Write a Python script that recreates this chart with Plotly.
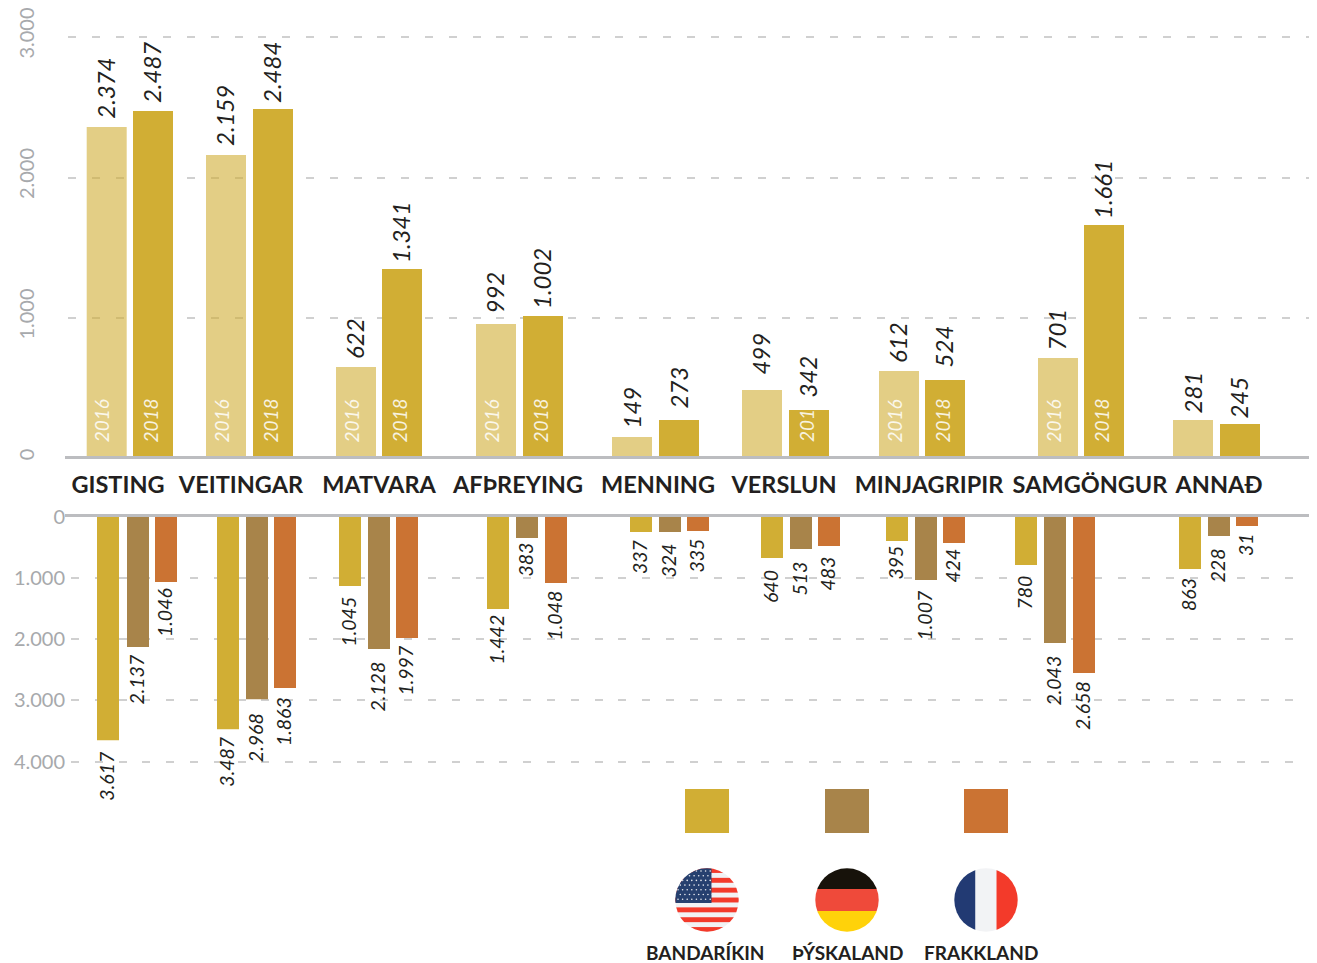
import base64
import plotly.graph_objects as go

# ---------- data ----------
categories = ["GISTING", "VEITINGAR", "MATVARA", "AFÞREYING", "MENNING", "VERSLUN", "MINJAGRIPIR", "SAMGÖNGUR", "ANNAÐ"]

spend_2016 = [2359, 2160, 651, 957, 153, 487, 623, 715, 274]
spend_2018 = [2473, 2488, 1349, 1014, 274, 345, 559, 1662, 245]
labels_2016 = ["2.374", "2.159", "622", "992", "149", "499", "612", "701", "281"]
labels_2018 = ["2.487", "2.484", "1.341", "1.002", "273", "342", "524", "1.661", "245"]
year_2016 = ["2016", "2016", "2016", "2016", "", "", "2016", "2016", ""]
year_2018 = ["2018", "2018", "2018", "2018", "", "201", "2018", "2018", ""]

usa = [3649, 3469, 1132, 1508, 250, 675, 397, 789, 855]
germany = [2129, 2979, 2162, 348, 250, 528, 1034, 2064, 315]
france = [1067, 2799, 1982, 1083, 234, 479, 430, 2554, 152]
labels_usa = ["3.617", "3.487", "1.045", "1.442", "337", "640", "395", "780", "863"]
labels_germany = ["2.137", "2.968", "2.128", "383", "324", "513", "1.007", "2.043", "228"]
labels_france = ["1.046", "1.863", "1.997", "1.048", "335", "483", "424", "2.658", "31"]

top_ticks = [0, 1000, 2000, 3000]
top_tick_text = ["0", "1.000", "2.000", "3.000"]
bottom_ticks = [0, 1000, 2000, 3000, 4000]
bottom_tick_text = ["0", "1.000", "2.000", "3.000", "4.000"]

countries = ["BANDARÍKIN", "ÞÝSKALAND", "FRAKKLAND"]

# ---------- layout constants ----------
OFFSET = 8  # default page margin around the figure
W, H = 1317 - OFFSET, 963 - OFFSET
x_2016 = [106.7, 226, 356, 496, 632, 762, 899, 1058, 1193]
x_2018 = [153, 273, 402, 543, 679, 809, 945, 1104, 1240]
x_usa = [108, 228, 350, 498, 641, 772, 897, 1026, 1190]
x_ger = [138, 257, 379, 527, 670, 801, 926, 1055, 1219]
x_fra = [166, 285, 407, 556, 698, 829, 954, 1084, 1247]
x_cat = [118, 241, 379, 518, 658, 784, 929, 1090, 1219]

gap_2016 = [7, 8, 7, 9, 7, 14, 7, 6, 5]
gap_2018 = [7, 5, 5, 6, 10, 11, 11, 5, 4]
gap_usa = [10, 7, 10, 5, 6, 11, 4, 10, 8]
gap_ger = [7, 13, 12, 4, 11, 12, 10, 12, 12]
gap_fra = [5, 8, 7, 7, 7, 10, 5, 7, 6]

GOLD, BROWN, ORANGE = "#D1AE34", "#A8844A", "#CB7333"
INK, GRID, RULE, TICK = "#231F20", "#D0D0D0", "#BCBDC0", "#A7A9AC"
NUM_FONT = "Lato"
CAT_FONT = "Lato"
DASH = "8px,15.8px"


def px(x):
    return (x - OFFSET) / W


def py(y):
    return 1 - (y - OFFSET) / H


fig = go.Figure()


def bar(x, y, color, width, yaxis, xaxis, opacity=1.0):
    fig.add_trace(go.Bar(x=x, y=y, width=width, marker=dict(color=color, line=dict(width=0)),
                         opacity=opacity, xaxis=xaxis, yaxis=yaxis, showlegend=False, hoverinfo="skip"))


bar(x_2016, spend_2016, GOLD, 40, "y", "x", 0.6)
bar(x_2018, spend_2018, GOLD, 40, "y", "x")
bar(x_usa, usa, GOLD, 22, "y2", "x2")
bar(x_ger, germany, BROWN, 22, "y2", "x2")
bar(x_fra, france, ORANGE, 22, "y2", "x2")

ann = []


def value_labels(xs, ys, texts, gaps, xref, yref, size, anchor):
    for x, y, t, g in zip(xs, ys, texts, gaps):
        ann.append(dict(x=x, y=y, xref=xref, yref=yref, text=t, textangle=-90, showarrow=False,
                        xanchor="center", yanchor=anchor, yshift=(g if anchor == "bottom" else -g), xshift=-1.5,
                        borderpad=0, font=dict(family=NUM_FONT, size=size, color=INK, style="italic")))


value_labels(x_2016, spend_2016, labels_2016, gap_2016, "x", "y", 24, "bottom")
value_labels(x_2018, spend_2018, labels_2018, gap_2018, "x", "y", 24, "bottom")
value_labels(x_usa, usa, labels_usa, gap_usa, "x2", "y2", 19.5, "top")
value_labels(x_ger, germany, labels_germany, gap_ger, "x2", "y2", 19.5, "top")
value_labels(x_fra, france, labels_france, gap_fra, "x2", "y2", 19.5, "top")


def year_labels(xs, texts, shift):
    for x, t in zip(xs, texts):
        if t:
            ann.append(dict(x=x, y=0, xref="x", yref="y", text=t, textangle=-90, showarrow=False,
                            xanchor="center", yanchor="bottom", yshift=15, xshift=shift, borderpad=0,
                            font=dict(family=NUM_FONT, size=19, color="rgba(255,255,255,0.85)", style="italic")))


year_labels(x_2016, year_2016, -5.5)
year_labels(x_2018, year_2018, -3)

# ---------- legend ----------
legend_colors = [GOLD, BROWN, ORANGE]
legend_x = [707, 847, 986]
label_x = [705.5, 847, 981]
shapes = []

for cx, c in zip(legend_x, legend_colors):
    shapes.append(dict(type="rect", xref="paper", yref="paper", x0=px(cx - 22), x1=px(cx + 22),
                       y0=py(833), y1=py(789), fillcolor=c, line=dict(width=0)))
for cx, name in zip(label_x, countries):
    ann.append(dict(x=px(cx), y=py(952), xref="paper", yref="paper", text=name, showarrow=False,
                    xanchor="center", yanchor="middle",
                    font=dict(family=CAT_FONT, size=19, color=INK, weight=700)))

# axis rules
for rule_y in [457.5, 515.5]:
    shapes.append(dict(type="line", xref="paper", yref="paper", x0=px(65), x1=px(1311), y0=py(rule_y), y1=py(rule_y),
                       line=dict(color=RULE, width=3), layer="above"))


# ---------- flags ----------
def svg_uri(body):
    svg = ('<svg xmlns="http://www.w3.org/2000/svg" width="64" height="64" viewBox="0 0 64 64">'
           '<defs><clipPath id="c"><circle cx="32" cy="32" r="31.7"/></clipPath></defs>'
           f'<g clip-path="url(#c)">{body}</g></svg>')
    return "data:image/svg+xml;base64," + base64.b64encode(svg.encode()).decode()


us = '<rect width="64" height="64" fill="#F1F2F4"/>'
for i in range(0, 13, 2):
    us += f'<rect x="0" y="{i * 64 / 13:.2f}" width="64" height="{64 / 13:.2f}" fill="#F33A2B"/>'
us += '<rect x="0" y="0" width="36.5" height="35" fill="#26406F"/>'
for r in range(7):
    for k in range(8):
        us += f'<circle cx="{3 + k * 4.6 + (r % 2) * 2.3:.1f}" cy="{3 + r * 4.7:.1f}" r="0.8" fill="#E8EAF0"/>'
de = ('<rect width="64" height="21" fill="#17120A"/><rect y="21" width="64" height="22" fill="#EF4A3A"/>'
      '<rect y="43" width="64" height="21" fill="#FFD20A"/>')
fr = ('<rect width="21.5" height="64" fill="#223A73"/><rect x="21.5" width="21" height="64" fill="#F2F3F5"/>'
      '<rect x="42.5" width="21.5" height="64" fill="#F33A2A"/>')
images = [dict(source=svg_uri(b), xref="paper", yref="paper", x=px(cx), y=py(900), sizex=64 / W, sizey=64 / H,
               xanchor="center", yanchor="middle", sizing="stretch", layer="above")
          for b, cx in zip([us, de, fr], legend_x)]

fig.update_layout(
    template="none",
    width=W, height=H, autosize=False, margin=dict(l=0, r=0, t=0, b=0, pad=0),
    paper_bgcolor="white", plot_bgcolor="white", barmode="overlay",
    annotations=ann, shapes=shapes, images=images,
    xaxis=dict(domain=[px(68), px(1311)], range=[68, 1311], anchor="y", automargin=False, showgrid=False,
               zeroline=False, showline=False,
               tickmode="array", tickvals=x_cat, ticktext=categories, ticks="", ticklabelstandoff=10,
               tickfont=dict(family=CAT_FONT, size=23.5, color=INK, weight=700), tickangle=0),
    yaxis=dict(domain=[py(458.5), py(35.6)], range=[0, 3010], anchor="x", automargin=False, showline=False,
               zeroline=False,
               tickmode="array", tickvals=top_ticks, ticktext=top_tick_text, tickangle=-90, ticks="",
               ticklabelstandoff=29, ticklabelshift=-1, ticklabeloverflow="allow",
               tickfont=dict(family="Lato", size=20, color=TICK),
               showgrid=True, gridcolor=GRID, gridwidth=1.5, griddash=DASH),
    xaxis2=dict(domain=[px(71), px(1316)], range=[71, 1316], anchor="y2", automargin=False, showgrid=False,
                zeroline=False, showline=False, showticklabels=False, ticks=""),
    yaxis2=dict(domain=[py(762.9), py(516.7)], range=[4020, 0], anchor="x2", automargin=False, showline=False,
                zeroline=False,
                tickmode="array", tickvals=bottom_ticks, ticktext=bottom_tick_text, ticks="",
                ticklabelstandoff=5,
                tickfont=dict(family="Lato", size=20, color=TICK),
                showgrid=True, gridcolor=GRID, gridwidth=1.5, griddash=DASH),
)

fig.write_html("out.html")
